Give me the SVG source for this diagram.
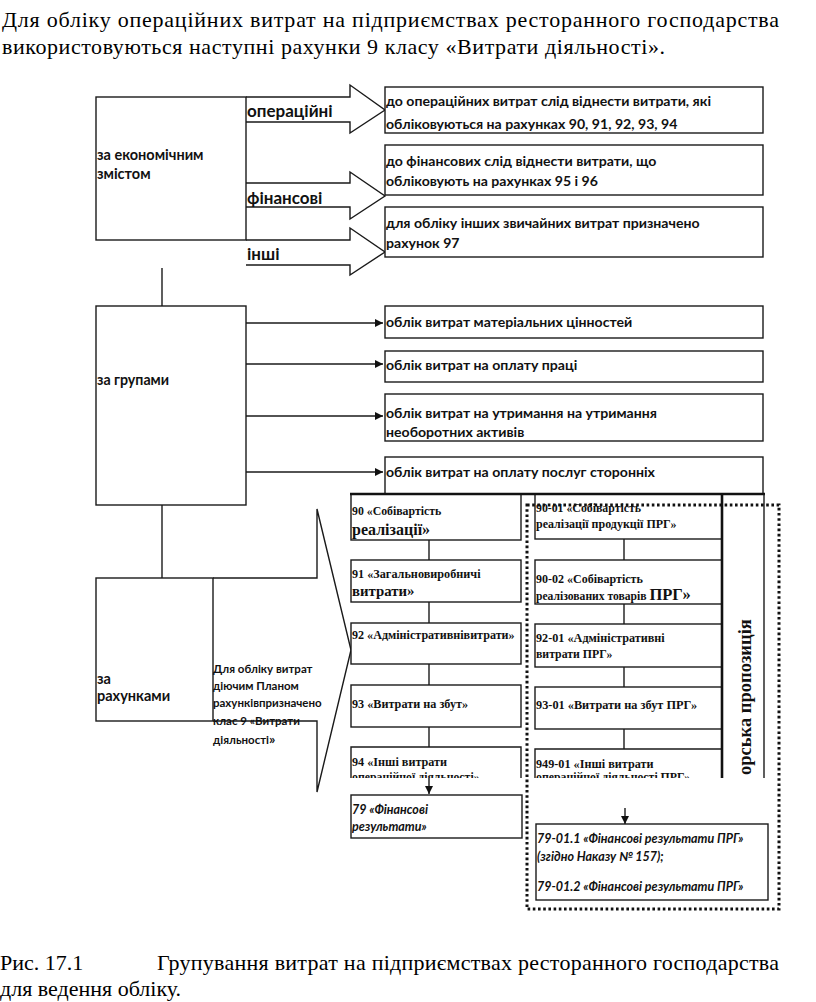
<svg xmlns="http://www.w3.org/2000/svg" width="816" height="1002" viewBox="0 0 816 1002">
<style>
.ln{stroke:#1a1a1a;stroke-width:1.4;fill:none}
.bx{fill:#fff;stroke:#1a1a1a;stroke-width:1.4}
.thk{stroke:#111;stroke-width:2.6;fill:none}
.cal{font-family:Lato,"Noto Sans",sans-serif;font-weight:bold;fill:#111}
.cali{font-family:Lato,"Noto Sans",sans-serif;font-weight:bold;font-style:italic;fill:#111;font-size:12.5px}
.tim{font-family:"Liberation Serif",serif;font-weight:bold;fill:#111}
.body{font-family:"Liberation Serif",serif;fill:#000;font-size:22px}
.dot{fill:none;stroke:#111;stroke-width:3;stroke-dasharray:2.6 2.6}
</style>
<defs>
<marker id="ah" viewBox="0 0 8 8" refX="8" refY="4" markerWidth="8" markerHeight="8" markerUnits="userSpaceOnUse" orient="auto">
<path d="M0,0 L8,4 L0,8 Z" fill="#111"/>
</marker>
<clipPath id="c94"><rect x="340" y="740" width="200" height="38"/></clipPath>
<clipPath id="c949"><rect x="530" y="740" width="200" height="38"/></clipPath>
</defs>
<rect width="816" height="1002" fill="#fff"/>

<g id="intro">
<text class="body" x="2" y="27" textLength="777" lengthAdjust="spacing">Для обліку операційних витрат на підприємствах ресторанного господарства</text>
<text class="body" x="2" y="54" textLength="663" lengthAdjust="spacing">використовуються наступні рахунки 9 класу «Витрати діяльності».</text>
</g>

<g id="connectors">
<polyline class="ln" points="246,97 350,97 350,85 385,110 350,133 350,122 246,122"/>
<polyline class="ln" points="246,183 350,183 350,172 385,196 350,219 350,207 246,207"/>
<polyline class="ln" points="246,240 350,240 350,228 385,252 350,275 350,265 246,265"/>
<line class="ln" x1="162" y1="268" x2="162" y2="306"/>
<line class="ln" x1="246" y1="323" x2="383" y2="323" marker-end="url(#ah)"/>
<line class="ln" x1="246" y1="364" x2="383" y2="364" marker-end="url(#ah)"/>
<line class="ln" x1="246" y1="416" x2="383" y2="416" marker-end="url(#ah)"/>
<line class="ln" x1="246" y1="472" x2="383" y2="472" marker-end="url(#ah)"/>
<line class="ln" x1="162" y1="505" x2="162" y2="578"/>
<polyline class="ln" points="213,578 317,578 317,509 351,650 317,792 317,721 213,721"/>
<line class="ln" x1="429" y1="540" x2="429" y2="560"/>
<line class="ln" x1="429" y1="602" x2="429" y2="623"/>
<line class="ln" x1="429" y1="664" x2="429" y2="685"/>
<line class="ln" x1="429" y1="727" x2="429" y2="747"/>
<line class="ln" x1="429" y1="778" x2="429" y2="794" marker-end="url(#ah)"/>
<line class="ln" x1="624" y1="539" x2="624" y2="560"/>
<line class="ln" x1="624" y1="604" x2="624" y2="624"/>
<line class="ln" x1="624" y1="667" x2="624" y2="687"/>
<line class="ln" x1="624" y1="729" x2="624" y2="749"/>
<line class="ln" x1="625" y1="808" x2="625" y2="824" marker-end="url(#ah)"/>
</g>

<g id="econ">
<rect class="bx" x="96" y="97" width="150" height="143" fill="none"/>
<text class="cal" font-size="14.5"><tspan x="97" y="160">за економічним</tspan><tspan x="97" y="179">змістом</tspan></text>
</g>
<g id="lbl-oper"><text class="cal" font-size="17" x="247" y="117">операційні</text></g>
<g id="lbl-fin"><text class="cal" font-size="17" x="247" y="204">фінансові</text></g>
<g id="lbl-other"><text class="cal" font-size="17" x="247" y="260">інші</text></g>

<g id="box-a">
<rect class="bx" x="385" y="87" width="378" height="46"/>
<text class="cal" font-size="14.1"><tspan x="386" y="106">до операційних витрат слід віднести витрати, які</tspan><tspan x="386" y="129">обліковуються на рахунках 90, 91, 92, 93, 94</tspan></text>
</g>
<g id="box-b">
<rect class="bx" x="385" y="145" width="378" height="50"/>
<text class="cal" font-size="14.1"><tspan x="386" y="166">до фінансових слід віднести витрати, що</tspan><tspan x="386" y="186">обліковують на рахунках 95 і 96</tspan></text>
</g>
<g id="box-c">
<rect class="bx" x="385" y="207" width="378" height="50"/>
<text class="cal" font-size="14.1"><tspan x="386" y="228">для обліку інших звичайних витрат призначено</tspan><tspan x="386" y="248">рахунок 97</tspan></text>
</g>

<g id="groups">
<rect class="bx" x="96" y="306" width="150" height="199" fill="none"/>
<text class="cal" font-size="14.2" x="97" y="385">за групами</text>
</g>
<g id="g1">
<rect class="bx" x="385" y="306" width="378" height="32"/>
<text class="cal" font-size="14.1" x="386" y="327">облік витрат матеріальних цінностей</text>
</g>
<g id="g2">
<rect class="bx" x="385" y="351" width="378" height="31"/>
<text class="cal" font-size="14.1" x="386" y="370">облік витрат на оплату праці</text>
</g>
<g id="g3">
<rect class="bx" x="385" y="394" width="378" height="47"/>
<text class="cal" font-size="14.1"><tspan x="386" y="418">облік витрат на утримання на утримання</tspan><tspan x="386" y="437">необоротних активів</tspan></text>
</g>
<g id="g4">
<rect class="bx" x="385" y="457" width="378" height="37"/>
<text class="cal" font-size="14.1" x="386" y="477">облік витрат на оплату послуг сторонніх</text>
</g>

<g id="accounts">
<rect class="bx" x="96" y="578" width="117" height="143" fill="none"/>
<text class="cal" font-size="14.5"><tspan x="97" y="684">за</tspan><tspan x="97" y="701">рахунками</tspan></text>
<text class="cal" font-size="11.5"><tspan x="213" y="673">Для обліку витрат</tspan><tspan x="213" y="690">діючим Планом</tspan><tspan x="213" y="707">рахунківпризначено</tspan><tspan x="213" y="725">клас 9 «Витрати</tspan><tspan x="213" y="744">діяльності<tspan font-size="14">»</tspan></tspan></text>
</g>

<g id="b90">
<rect class="bx" x="351" y="494" width="170" height="46"/>
<text class="tim"><tspan x="352" y="515" font-size="11.8">90 «Собівартість</tspan><tspan x="352" y="535" font-size="16">реалізації»</tspan></text>
</g>
<g id="b91">
<rect class="bx" x="351" y="560" width="170" height="42"/>
<text class="tim"><tspan x="352" y="578" font-size="12.2">91 «Загальновиробничі</tspan><tspan x="352" y="596" font-size="14.8">витрати»</tspan></text>
</g>
<g id="b92">
<rect class="bx" x="351" y="623" width="170" height="41"/>
<text class="tim" font-size="12.1" x="352" y="639">92 «Адміністративнівитрати»</text>
</g>
<g id="b93">
<rect class="bx" x="351" y="685" width="170" height="42"/>
<text class="tim" font-size="12.2" x="352" y="708">93 «Витрати на збут»</text>
</g>
<g id="b94">
<polyline class="ln" points="351,778 351,747 521,747 521,778"/>
<g clip-path="url(#c94)"><text class="tim"><tspan x="352" y="766" font-size="12.2">94 «Інші витрати</tspan><tspan x="352" y="781" font-size="11.8">операційної діяльності»</tspan></text></g>
</g>
<g id="b79">
<rect class="bx" x="351" y="795" width="171" height="43"/>
<text class="cali" font-size="14"><tspan x="352" y="814">79 «Фінансові</tspan><tspan x="352" y="831">результати»</tspan></text>
</g>

<g id="b9001">
<rect class="bx" x="535" y="494" width="187" height="45"/>
<text class="tim"><tspan x="536" y="512" font-size="11.8">90-01 «Собівартість</tspan><tspan x="536" y="528" font-size="12">реалізації продукції ПРГ»</tspan></text>
</g>
<g id="b9002">
<rect class="bx" x="535" y="560" width="187" height="44"/>
<text class="tim"><tspan x="536" y="583" font-size="12">90-02 «Собівартість</tspan><tspan x="536" y="600" font-size="11.6">реалізованих товарів <tspan font-size="16.5">ПРГ»</tspan></tspan></text>
</g>
<g id="b9201">
<rect class="bx" x="535" y="624" width="187" height="43"/>
<text class="tim"><tspan x="536" y="642" font-size="12.2">92-01 «Адміністративні</tspan><tspan x="536" y="658" font-size="11.8">витрати ПРГ»</tspan></text>
</g>
<g id="b9301">
<rect class="bx" x="535" y="687" width="187" height="42"/>
<text class="tim" font-size="12.3" x="536" y="709">93-01 «Витрати на збут ПРГ»</text>
</g>
<g id="b94901">
<polyline class="ln" points="535,778 535,749 722,749"/>
<g clip-path="url(#c949)"><text class="tim"><tspan x="536" y="768" font-size="12.2">949-01 «Інші витрати</tspan><tspan x="536" y="781" font-size="11.8">операційної діяльності ПРГ»</tspan></text></g>
</g>
<g id="author">
<line class="thk" x1="350" y1="494" x2="765" y2="494"/>
<line class="thk" x1="722" y1="494" x2="722" y2="778"/>
<line class="ln" x1="764" y1="494" x2="764" y2="778"/>
<text class="tim" font-size="18.5" transform="translate(751,775) rotate(-90)">орська пропозиція</text>
</g>
<g id="b7901">
<rect class="bx" x="536" y="824" width="232" height="76"/>
<text class="cali"><tspan x="537" y="843">79-01.1 «Фінансові результати ПРГ»</tspan><tspan x="537" y="861">(згідно Наказу № 157);</tspan><tspan x="537" y="891">79-01.2 «Фінансові результати ПРГ»</tspan></text>
</g>
<g id="proposal-frame">
<rect class="dot" x="527" y="505" width="252" height="404"/>
</g>

<g id="caption">
<text class="body" x="0" y="970">Рис. 17.1</text>
<text class="body" x="157" y="970" textLength="622" lengthAdjust="spacing">Групування витрат на підприємствах ресторанного господарства</text>
<text class="body" x="0" y="996">для ведення обліку.</text>
</g>
</svg>
